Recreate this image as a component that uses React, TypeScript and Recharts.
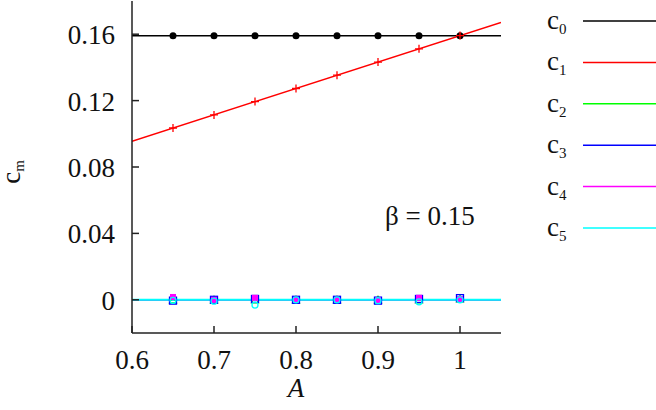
import React from 'react'
import { ComposedChart, Line, Scatter, XAxis, YAxis, Legend, Customized } from 'recharts'

// sample points (A) where the coefficients were computed
const aPoints = [0.65, 0.7, 0.75, 0.8, 0.85, 0.9, 0.95, 1.0]
const c0Values = [0.159, 0.159, 0.159, 0.159, 0.159, 0.159, 0.159, 0.159]
const c1Values = [0.1035, 0.1114, 0.1194, 0.1273, 0.1353, 0.1432, 0.1512, 0.1592]
const c2Values = [0, 0, 0, 0, 0, 0, 0, 0.0005]
const c3Values = [-0.0005, 0, 0.0005, 0, 0, -0.0005, 0.0005, 0.001]
const c4Values = [0.0017, 0, 0.0012, 0, 0, -0.0003, 0.0012, 0.0005]
const c5Values = [-0.0003, -0.0008, -0.0032, 0, 0, -0.0005, -0.0012, 0]

// analytic curves over the full axis range
const lineA = [0.6, 1.05]
const c0Line = [0.159, 0.159]
const c1Line = [0.0955, 0.1671]
const zeroLine = [0, 0]

const xTicks = [0.6, 0.7, 0.8, 0.9, 1]
const yTicks = [0, 0.04, 0.08, 0.12, 0.16]

const seriesNames = ['0', '1', '2', '3', '4', '5']
const seriesColors = ['#000000', '#ff0000', '#00ff00', '#0000ff', '#ff00ff', '#00ffff']

const FONT = "'Liberation Serif', 'Times New Roman', serif"
const AXIS = '#222'

const pts = (ys: number[]) => aPoints.map((x, i) => ({ x, y: ys[i] }))
const seg = (ys: number[]) => lineA.map((x, i) => ({ x, y: ys[i] }))

const BottomTick = ({ x, y, payload }: any) => (
  <g>
    <line x1={x} y1={y} x2={x} y2={y - 7} stroke={AXIS} strokeWidth={1.5} />
    <text x={x} y={y + 36} textAnchor="middle" fontSize={27} fontFamily={FONT} fill="#111">
      {String(payload.value)}
    </text>
  </g>
)
const TopTick = ({ x, y }: any) => (
  <line x1={x} y1={y} x2={x} y2={y + 7} stroke={AXIS} strokeWidth={1.5} />
)
const LeftTick = ({ x, y, payload }: any) => (
  <g>
    <line x1={x} y1={y} x2={x + 7} y2={y} stroke={AXIS} strokeWidth={1.5} />
    <text x={x - 17} y={y + 10} textAnchor="end" fontSize={27} fontFamily={FONT} fill="#111">
      {String(payload.value)}
    </text>
  </g>
)
const RightTick = ({ x, y }: any) => (
  <line x1={x} y1={y} x2={x - 7} y2={y} stroke={AXIS} strokeWidth={1.5} />
)

const Dot = ({ cx, cy }: any) => <circle cx={cx} cy={cy} r={3.5} fill="#000" />
const Plus = ({ cx, cy }: any) => (
  <path d={`M${cx - 4},${cy}H${cx + 4}M${cx},${cy - 4}V${cy + 4}`} stroke="#ff0000" strokeWidth={1.3} />
)
const Tri = ({ cx, cy }: any) => (
  <path d={`M${cx},${cy - 3.5}L${cx + 3.5},${cy + 3}L${cx - 3.5},${cy + 3}Z`} fill="none" stroke="#00ff00" strokeWidth={1.2} />
)
const OpenSquare = ({ cx, cy }: any) => (
  <rect x={cx - 3.5} y={cy - 3.5} width={7} height={7} fill="none" stroke="#0000ff" strokeWidth={1.3} />
)
const FilledSquare = ({ cx, cy }: any) => (
  <rect x={cx - 3} y={cy - 3} width={6} height={6} fill="#ff00ff" />
)
const OpenCircle = ({ cx, cy }: any) => (
  <circle cx={cx} cy={cy} r={3} fill="none" stroke="#00ffff" strokeWidth={1.3} />
)

const LegendBox = () => (
  <svg width={116} height={250} style={{ display: 'block' }}>
    {seriesNames.map((n, i) => {
      const y = 21 + i * 41.4
      return (
        <g key={n}>
          <text x={7} y={y + 8} fontSize={27} fontFamily={FONT} fill="#111">
            c<tspan fontSize={15} dy={5}>{n}</tspan>
          </text>
          <line x1={43} y1={y} x2={116} y2={y} stroke={seriesColors[i]} strokeWidth={1.5} />
        </g>
      )
    })}
  </svg>
)

const Annotations = () => (
  <g fontFamily={FONT} fill="#111">
    <text x={385} y={225} fontSize={27}>β = 0.15</text>
    <text x={296} y={397} fontSize={27} fontStyle="italic" textAnchor="middle">A</text>
    <text transform="rotate(-90 20 172)" x={20} y={172} fontSize={27} textAnchor="middle">
      c<tspan fontSize={15} dy={4}>m</tspan>
    </text>
  </g>
)

export default function App() {
  return (
    <div style={{ position: 'absolute', left: 0, top: 0 }}>
      <ComposedChart width={656} height={410} margin={{ top: 1, right: 155, bottom: 0, left: 0 }}>
        <XAxis
          dataKey="x"
          type="number"
          domain={[0.6, 1.05]}
          ticks={xTicks}
          allowDataOverflow
          height={77}
          tickSize={0}
          tickMargin={0}
          tick={<BottomTick />}
          stroke={AXIS}
          strokeWidth={1.5}
        />
        <XAxis
          xAxisId="top"
          orientation="top"
          dataKey="x"
          type="number"
          domain={[0.6, 1.05]}
          ticks={xTicks}
          allowDataOverflow
          height={0}
          tickSize={0}
          tickMargin={0}
          tick={<TopTick />}
          stroke={AXIS}
          strokeWidth={1.5}
        />
        <YAxis
          type="number"
          domain={[-0.02, 0.18]}
          ticks={yTicks}
          allowDataOverflow
          width={132}
          tickSize={0}
          tickMargin={0}
          tick={<LeftTick />}
          stroke={AXIS}
          strokeWidth={1.5}
        />
        <YAxis
          yAxisId="right"
          orientation="right"
          type="number"
          domain={[-0.02, 0.18]}
          ticks={yTicks}
          allowDataOverflow
          width={0}
          tickSize={0}
          tickMargin={0}
          tick={<RightTick />}
          stroke={AXIS}
          strokeWidth={1.5}
        />
        <Line data={seg(c0Line)} dataKey="y" stroke="#000" strokeWidth={1.5} dot={false} isAnimationActive={false} />
        <Line data={seg(c1Line)} dataKey="y" stroke="#ff0000" strokeWidth={1.5} dot={false} isAnimationActive={false} />
        <Line data={seg(zeroLine)} dataKey="y" stroke="#00ff00" strokeWidth={1.5} dot={false} isAnimationActive={false} />
        <Line data={seg(zeroLine)} dataKey="y" stroke="#0000ff" strokeWidth={1.5} dot={false} isAnimationActive={false} />
        <Line data={seg(zeroLine)} dataKey="y" stroke="#ff00ff" strokeWidth={1.5} dot={false} isAnimationActive={false} />
        <Line data={seg(zeroLine)} dataKey="y" stroke="#00ffff" strokeWidth={2} dot={false} isAnimationActive={false} />
        <Scatter data={pts(c0Values)} dataKey="y" shape={<Dot />} isAnimationActive={false} />
        <Scatter data={pts(c1Values)} dataKey="y" shape={<Plus />} isAnimationActive={false} />
        <Scatter data={pts(c2Values)} dataKey="y" shape={<Tri />} isAnimationActive={false} />
        <Scatter data={pts(c3Values)} dataKey="y" shape={<OpenSquare />} isAnimationActive={false} />
        <Scatter data={pts(c4Values)} dataKey="y" shape={<FilledSquare />} isAnimationActive={false} />
        <Scatter data={pts(c5Values)} dataKey="y" shape={<OpenCircle />} isAnimationActive={false} />
        <Legend
          layout="vertical"
          align="center"
          verticalAlign="middle"
          content={<LegendBox />}
          wrapperStyle={{ left: 540, top: 0, width: 116, height: 250 }}
        />
        <Customized component={<Annotations />} />
      </ComposedChart>
    </div>
  )
}
